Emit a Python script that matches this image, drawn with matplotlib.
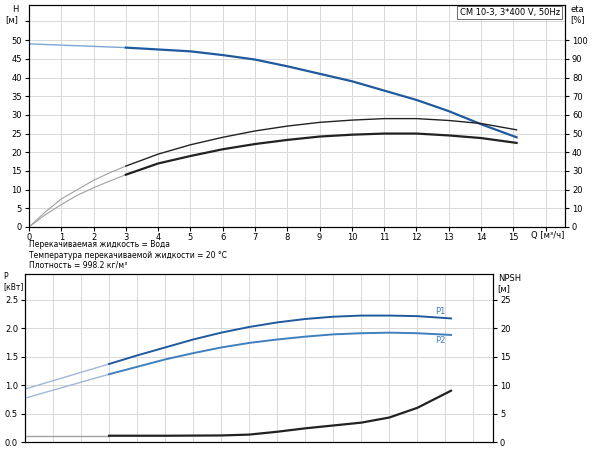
import numpy as np
import matplotlib.pyplot as plt

# top chart: head and efficiency
q_h = [0, 3, 4, 5, 6, 7, 8, 9, 10, 11, 12, 13, 14, 15.1]
head = [49, 48, 47.5, 47, 46, 44.8, 43, 41, 39, 36.5, 34, 31, 27.5, 24]
q_eta = [0, 0.5, 1, 1.5, 2, 2.5, 3, 4, 5, 6, 7, 8, 9, 10, 11, 12, 13, 14, 15.1]
eta_pump = [0, 8, 15, 20, 25, 29, 32.6, 39, 44, 48, 51.4, 54, 56, 57.2, 58, 58, 57, 55.4, 52]
eta_total = [0, 6.5, 12, 17, 21, 24.6, 28, 34, 38, 41.6, 44.4, 46.6, 48.4, 49.4, 50, 50, 49, 47.6, 45]

# bottom chart: power and NPSH
q_p = [0, 3, 4, 5, 6, 7, 8, 9, 10, 11, 12, 13, 14, 15.2]
p1 = [0.93, 1.37, 1.52, 1.66, 1.8, 1.92, 2.02, 2.1, 2.16, 2.2, 2.22, 2.22, 2.21, 2.17]
p2 = [0.77, 1.19, 1.32, 1.45, 1.56, 1.66, 1.74, 1.8, 1.85, 1.89, 1.91, 1.92, 1.91, 1.88]
q_npsh = [0, 3, 5, 7, 8, 9, 10, 11, 12, 13, 14, 15.2]
npsh = [1.1, 1.1, 1.1, 1.15, 1.3, 1.8, 2.4, 2.9, 3.4, 4.3, 6.0, 9.0]

info = ["Перекачиваемая жидкость = Вода",
        "Температура перекачиваемой жидкости = 20 °C",
        "Плотность = 998.2 кг/м³"]

blue = "#1f5a9e"
lblue = "#3f7fbf"
plt.rcParams['font.family'] = ['DejaVu Sans']
fs = 6

fig = plt.figure(figsize=(6, 4.5), dpi=100)
W, H = 600, 450
ax = fig.add_axes([29 / W, 1 - 227 / H, (565 - 29) / W, (227 - 5) / H])
ax2 = ax.twinx()


def split(q, v, cut):
    q = np.array(q, float); v = np.array(v, float)
    a = q <= cut; b = q >= cut
    return (q[a], v[a]), (q[b], v[b])


(qa, ha), (qb, hb) = split(q_h, head, 3)
ax.plot(qa, ha, color="#7fa6d3", lw=1)
ax.plot(qb, hb, color=blue, lw=1.6)
for vals, lw in [(eta_pump, 1.0), (eta_total, 1.6)]:
    (qa, ea), (qb, eb) = split(q_eta, vals, 3)
    ax2.plot(qa, ea, color="#a0a0a0", lw=0.8)
    ax2.plot(qb, eb, color="#222222", lw=lw)

ax.set_xlim(0, 16.6)
ax.set_ylim(0, 59.4)
ax2.set_ylim(0, 118.8)
ax.set_xticks(range(0, 17))
ax.set_xticklabels([str(i) for i in range(16)] + [""])
ax.set_yticks(range(0, 60, 5))
ax.set_yticklabels([str(i) for i in range(0, 55, 5)] + [""])
ax2.set_yticks(range(0, 110, 10))
ax.grid(True, color="#d8d8d8", lw=0.7)
for a in (ax, ax2):
    a.tick_params(labelsize=fs, length=3, pad=2)
ax.tick_params(axis="x", pad=1)
ax.text(-0.02, 1.0, "H\n[м]", transform=ax.transAxes, fontsize=fs, ha="right", va="top")
ax2.text(1.01, 1.0, "eta\n[%]", transform=ax.transAxes, fontsize=fs, ha="left", va="top")
ax.text(0.99, 0.985, "CM 10-3, 3*400 V, 50Hz", transform=ax.transAxes, fontsize=fs,
        ha="right", va="top", bbox=dict(fc="white", ec="#555555", lw=0.6, pad=1.5))
ax.text(16.05, -1.2, "Q [м³/ч]", fontsize=fs, ha="center", va="top")

for i, t in enumerate(info):
    fig.text(29 / W, 1 - (245 + i * 10) / H, t, fontsize=5.5, va="center")

bx = fig.add_axes([25 / W, 1 - 442 / H, (493 - 25) / W, (442 - 274) / H])
bx2 = bx.twinx()
for vals, c in [(p1, blue), (p2, lblue)]:
    (qa, pa), (qb, pb) = split(q_p, vals, 3)
    bx.plot(qa, pa, color="#9fb8d8", lw=1)
    bx.plot(qb, pb, color=c, lw=1.4)
(qa, na), (qb, nb) = split(q_npsh, npsh, 3)
bx2.plot(qa, na, color="#a0a0a0", lw=1)
bx2.plot(qb, nb, color="#222222", lw=1.6)
bx.text(15.0, 2.25, "P1", color=lblue, fontsize=fs, ha="right")
bx.text(15.0, 1.74, "P2", color=lblue, fontsize=fs, ha="right")

bx.set_xlim(0, 16.7)
bx.set_ylim(0, 2.95)
bx2.set_ylim(0, 29.5)
bx.set_xticks(range(0, 17))
bx.set_yticks(np.arange(0, 2.6, 0.5))
bx2.set_yticks(range(0, 26, 5))
bx.tick_params(axis="x", labelbottom=False, length=0)
bx.grid(True, color="#d8d8d8", lw=0.7)
for a in (bx, bx2):
    a.tick_params(axis="y", labelsize=fs, length=3, pad=2)
fig.text(3 / W, 1 - 272 / H, "P\n[кВт]", fontsize=5.5, ha="left", va="top")
bx2.text(1.01, 1.0, "NPSH\n[м]", transform=bx.transAxes, fontsize=fs, ha="left", va="top")

fig.savefig("out.png", dpi=100)
